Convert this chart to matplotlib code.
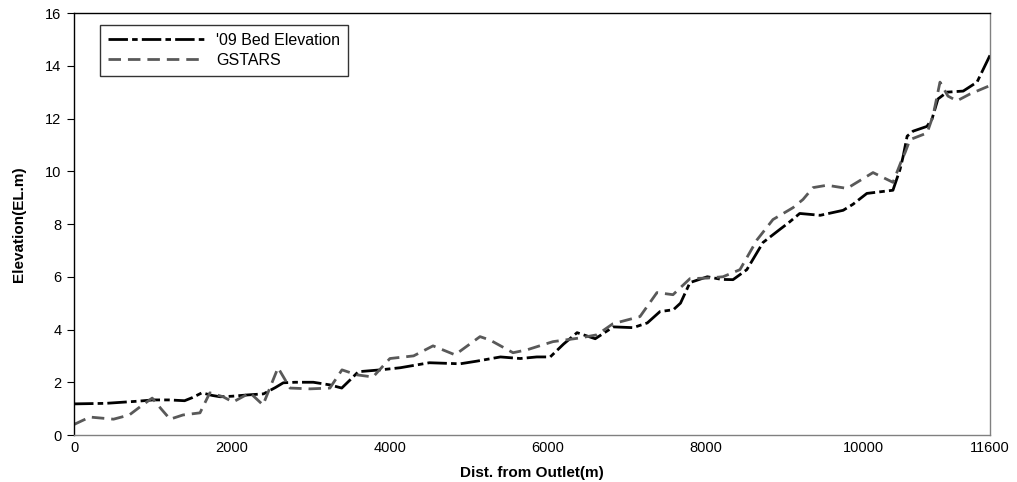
import matplotlib
matplotlib.use("Agg")
import matplotlib.pyplot as plt

plt.rcParams["font.family"] = ["Liberation Sans", "DejaVu Sans"]

# distance from outlet (m) and elevation (EL.m)
bed_dist = [0, 400, 800, 1000, 1200, 1400, 1500, 1620, 1750, 1850, 2000, 2200, 2400,
            2550, 2650, 2800, 3030, 3240, 3390, 3500, 3600, 3880, 4130, 4500, 4890,
            5100, 5400, 5650, 5860, 6030, 6200, 6370, 6600, 6830, 7080, 7260, 7420,
            7590, 7680, 7800, 8020, 8200, 8345, 8520, 8725, 8940, 9050, 9190, 9450,
            9740, 9865, 10040, 10370, 10460, 10500, 10550, 10625, 10800, 10865, 10940,
            11055, 11260, 11435, 11600]
bed_elev = [1.18, 1.2, 1.28, 1.33, 1.33, 1.3, 1.42, 1.6, 1.5, 1.45, 1.47, 1.52, 1.56,
            1.8, 1.98, 2.0, 2.0, 1.9, 1.78, 2.1, 2.4, 2.47, 2.55, 2.74, 2.7,
            2.8, 2.96, 2.9, 2.96, 2.96, 3.45, 3.88, 3.65, 4.1, 4.07, 4.25, 4.68,
            4.75, 5.0, 5.78, 6.0, 5.9, 5.89, 6.27, 7.3, 7.8, 8.05, 8.4, 8.33,
            8.52, 8.75, 9.16, 9.28, 10.07, 10.57, 11.33, 11.52, 11.7, 11.98, 12.74,
            13.0, 13.04, 13.38, 14.4]

gstars_dist = [0, 200, 500, 700, 850, 990, 1100, 1216, 1380, 1595, 1720, 1887, 2013,
               2228, 2393, 2583, 2735, 2990, 3240, 3393, 3583, 3786, 4000, 4300, 4546,
               4825, 5141, 5268, 5559, 5736, 6065, 6407, 6623, 6825, 7167, 7382, 7585,
               7800, 8020, 8218, 8433, 8649, 8851, 9105, 9231, 9358, 9535, 9789, 10118,
               10371, 10485, 10523, 10586, 10802, 10878, 10966, 11067, 11181, 11346, 11600]
gstars_elev = [0.4, 0.68, 0.6, 0.76, 1.1, 1.4, 1.0, 0.6, 0.76, 0.84, 1.6, 1.45, 1.25,
               1.6, 1.14, 2.55, 1.78, 1.75, 1.78, 2.47, 2.28, 2.2, 2.9, 3.0, 3.38,
               3.04, 3.73, 3.6, 3.12, 3.23, 3.54, 3.68, 3.8, 4.22, 4.49, 5.4, 5.32,
               5.93, 5.95, 6.0, 6.27, 7.4, 8.17, 8.62, 8.93, 9.38, 9.47, 9.35, 9.95,
               9.58, 10.45, 10.7, 11.2, 11.45, 12.1, 13.38, 12.85, 12.67, 12.93, 13.25]

x_ticks = [0, 2000, 4000, 6000, 8000, 10000, 11600]
y_ticks = [0, 2, 4, 6, 8, 10, 12, 14, 16]

fig = plt.figure(figsize=(10.17, 4.82), dpi=100)
ax = fig.add_axes([0.0728, 0.0975, 0.9007, 0.8755])

ax.plot(bed_dist, bed_elev, color="black", linewidth=2.0,
        dashes=(7, 1.5, 2, 1.5), label="'09 Bed Elevation")
ax.plot(gstars_dist, gstars_elev, color="#595959", linewidth=2.0,
        dashes=(4.5, 2.5), label="GSTARS")

ax.set_xlim(0, 11600)
ax.set_ylim(0, 16)
ax.set_xticks(x_ticks)
ax.set_yticks(y_ticks)
ax.tick_params(axis="x", length=0, pad=4, labelsize=10.5)
ax.tick_params(axis="y", length=5, direction="out", pad=4, labelsize=10.5)

ax.spines["left"].set_color("black")
ax.spines["top"].set_color("black")
ax.spines["bottom"].set_color("#808080")
ax.spines["right"].set_color("#808080")
for s in ax.spines.values():
    s.set_linewidth(1.0)

ax.set_xlabel("Dist. from Outlet(m)", fontsize=11, fontweight="bold", labelpad=8)
ax.set_ylabel("Elevation(EL.m)", fontsize=11, fontweight="bold", labelpad=14)

leg = ax.legend(loc="upper left", bbox_to_anchor=(0.028, 0.972), fontsize=11.5,
                handlelength=6.0, frameon=True, fancybox=False, borderpad=0.5,
                labelspacing=0.3, handletextpad=0.8, borderaxespad=0)
leg.get_frame().set_edgecolor("black")
leg.get_frame().set_linewidth(1.0)

fig.savefig("out.png", dpi=100)
